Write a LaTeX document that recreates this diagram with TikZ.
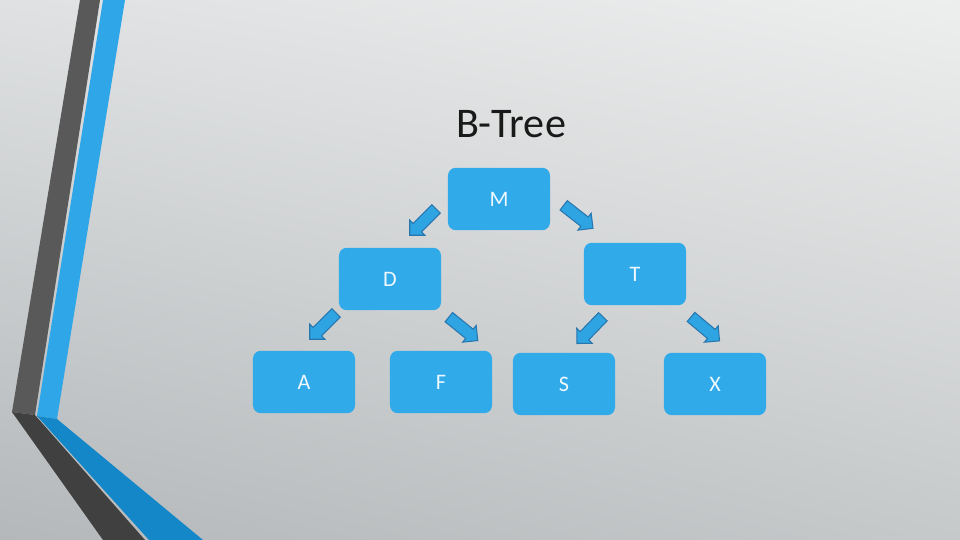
\documentclass[tikz,border=0pt]{standalone}
\usepackage{fontspec}
\setmainfont{Carlito}
\usetikzlibrary{shapes.arrows,shadings}
\definecolor{boxblue}{HTML}{31AAEA}
\definecolor{arrowblue}{HTML}{2FA4E2}
\definecolor{arrowedge}{HTML}{2876AE}
\definecolor{bandgray}{HTML}{595959}
\definecolor{banddark}{HTML}{404040}
\definecolor{bandblue}{HTML}{2EA6E8}
\definecolor{banddeep}{HTML}{1487C9}
\definecolor{bgul}{HTML}{DFE1E2}
\definecolor{bgur}{HTML}{EDEEEE}
\definecolor{bgll}{HTML}{B4B8BA}
\definecolor{bglr}{HTML}{C6C9CA}

\begin{document}
\begin{tikzpicture}[x=0.016667cm, y=-0.016667cm,
    treebox/.style={fill=boxblue, rounded corners=0.13cm,
                minimum width=1.7cm, minimum height=1.04cm,
                text=white!92!boxblue, font=\fontsize{10.5}{12}\selectfont},
    downarrow/.style={single arrow, fill=arrowblue, draw=arrowedge,
                line width=0.5pt, minimum height=0.62cm,
                single arrow head extend=0.08cm, inner sep=0.09cm}]

  %% background
  \useasboundingbox (0,0) rectangle (960,540);
  \shade[upper left=bgul, upper right=bgur,
         lower left=bgll, lower right=bglr]
    (0,0) rectangle (960,540);

  %% side bands
  \fill[bandgray] (80,0) -- (100,0) -- (35,415) -- (12,412) -- cycle;
  \fill[banddark] (12,412) -- (35,415) -- (145,540) -- (103,540) -- cycle;
  \fill[bandblue] (103,0) -- (125,0) -- (57,419) -- (37,416) -- cycle;
  \fill[banddeep] (37,416) -- (57,419) -- (203,540) -- (149,540) -- cycle;

  %% title
  \node[font=\fontsize{20}{24}\selectfont, text=black!90] (title) at (511,124) {B-Tree};

  %% tree nodes
  \node[treebox] (m) at (499,199) {M};
  \node[treebox] (d) at (390,279) {D};
  \node[treebox] (t) at (635,274) {T};
  \node[treebox] (a) at (304,382) {A};
  \node[treebox] (f) at (441,382) {F};
  \node[treebox] (s) at (564,384) {S};
  \node[treebox] (x) at (715,384) {X};

  %% arrows
  \node[downarrow, rotate=-135] (m-d) at (425,220) {};
  \node[downarrow, rotate=-38]  (m-t) at (576,215) {};
  \node[downarrow, rotate=-135] (d-a) at (325,324) {};
  \node[downarrow, rotate=-39]  (d-f) at (461,327) {};
  \node[downarrow, rotate=-134] (t-s) at (592,328) {};
  \node[downarrow, rotate=-40]  (t-x) at (703,327) {};

\end{tikzpicture}
\end{document}
